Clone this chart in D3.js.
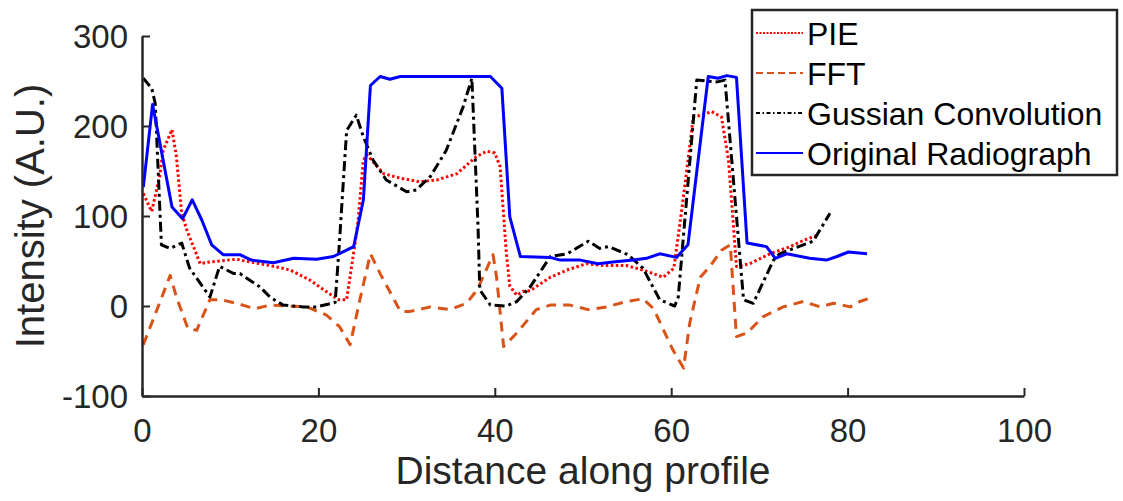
<!DOCTYPE html>
<html>
<head>
<meta charset="utf-8">
<script src="https://cdn.jsdelivr.net/npm/d3@7/dist/d3.min.js"></script>
<style>
  html, body { margin: 0; padding: 0; background: #fff; }
  svg { display: block; }
  text { font-family: "Liberation Sans", Arial, Helvetica, sans-serif; fill: #262626; }
</style>
</head>
<body>
<svg id="chart" width="1123" height="501"></svg>
<script>
// ---- data ----
const seriesNames = ["PIE", "FFT", "Gussian Convolution", "Original Radiograph"];

const pieX = [0.15,1.1,2,2.4,3.4,3.9,4.5,5.1,6.6,7.7,10.7,12.2,14.5,16.8,19,20.9,22.3,23.2,24.1,24.5,25.1,25.5,27.4,29.3,31.5,33.4,35.7,37.9,39.1,40,40.6,41.3,41.7,42.5,43.2,44,46.3,48.2,50.4,52.3,54.9,56.8,59.1,60.3,61.2,62.1,62.5,63.4,64.6,65.7,66.5,67.4,68.9,71.2,73.5,75,76.7];
const pieY = [125,105,144,173,196,166,103,84,47,49,52,49,45,40,29,16,7,7,66,95,162,168,147,142,138,140,147,166,172,170,155,60,22,12,16,17,32,40,47,45,45,40,32,42,107,177,210,212,216,210,162,44,47,58,66,73,79];

const fftX = [0.15,1.7,3.2,3.9,5.2,6.2,7.7,9,10.7,12.8,14.5,16.4,18.7,20.9,22.4,23.6,24.7,25.9,27,29.3,30.4,32.7,34.9,36.8,38,39.8,40.2,41,42.5,44.7,46.3,48.5,50.6,52.7,54.9,56.8,58,60.2,61.4,62.1,63.3,64.4,65.7,66.7,67.4,68.6,70.4,72.7,75,76.9,78.4,80.3,81.4,82.9];
const fftY = [-43,-4,34,10,-25,-27,7,7,3,-3,1,0,-1,-10,-23,-43,7,58,36,-6,-6,-1,-4,3,18,57,32,-45,-30,-4,1,1,-4,-1,5,8,-3,-49,-69,-19,32,44,62,68,-34,-30,-12,-1,5,-1,3,-1,5,10];

const gaussX = [0.15,1.1,1.5,2.2,3.2,4.5,5.4,7.7,8.8,10.4,11.1,13.4,14.5,16,18.3,19.8,21.9,22.3,23.2,24.3,25.1,26.2,27.7,30,31.1,32.7,34.5,36.4,37.4,38.1,38.3,39.5,41.3,42.5,44,46.3,48.2,50.6,51.9,52.9,55.1,56.8,58.7,60.4,60.8,62.9,65.2,66.1,68.2,69.3,71.6,72.3,73.9,76.1,78];
const gaussY = [253,242,225,68,64,70,42,10,44,36,36,21,10,1,-1,-1,4,58,195,212,188,162,140,127,129,144,173,221,253,88,18,1,0,5,21,55,58,72,64,66,57,42,7,0,10,251,249,251,7,3,51,58,64,72,103];

const origX = [0.15,1.2,3.4,4.6,5.7,6.8,7.9,9.2,11.1,12.4,14.9,17.2,19.8,21.7,23.2,24,25.1,25.9,27,28.1,29.3,37.2,39.5,40.8,41.7,42.9,46.3,47.4,49.7,51.7,53.4,55.7,57.2,58.7,60.6,61.9,64.2,65.3,66.3,67.4,68.6,70.8,71.8,73.1,75.7,77.6,78.8,80.1,82.2];
const origY = [132,224,110,97,118,95,68,57,57,51,48,53,52,55,62,66,118,245,255,252,255,255,255,242,99,55,54,51,51,47,49,51,53,58,54,68,255,253,256,254,70,66,53,58,53,51,55,60,58];

const xTicks = [0, 20, 40, 60, 80, 100];
const yTicks = [-100, 0, 100, 200, 300];
const xLabel = "Distance along profile";
const yLabel = "Intensity (A.U.)";

// ---- styles ----
const styles = [
  { color: "#FF0000", dash: "2.5,2.5", width: 3 },
  { color: "#D95319", dash: "10,7", width: 3 },
  { color: "#000000", dash: "10,4,3,4", width: 3 },
  { color: "#0000FF", dash: null, width: 3 }
];
const seriesData = [
  pieX.map((x, i) => [x, pieY[i]]),
  fftX.map((x, i) => [x, fftY[i]]),
  gaussX.map((x, i) => [x, gaussY[i]]),
  origX.map((x, i) => [x, origY[i]])
];

const svg = d3.select("#chart");
const axisColor = "#262626";
const x = d3.scaleLinear().domain([0, 100]).range([142, 1024]);
const y = d3.scaleLinear().domain([-100, 300]).range([396, 36]);

// series lines
const line = d3.line().x(d => x(d[0])).y(d => y(d[1]));
[0, 1, 2, 3].forEach(i => {
  svg.append("path")
    .datum(seriesData[i])
    .attr("d", line)
    .attr("fill", "none")
    .attr("stroke", styles[i].color)
    .attr("stroke-width", styles[i].width)
    .attr("stroke-dasharray", styles[i].dash)
    .attr("stroke-linejoin", "round");
});

// axes (ticks pointing inward, MATLAB style)
const fmt = d => String(d);
const xAxis = d3.axisBottom(x).tickValues(xTicks).tickFormat(fmt).tickSize(-8).tickSizeOuter(0);
const yAxis = d3.axisLeft(y).tickValues(yTicks).tickFormat(fmt).tickSize(-8).tickSizeOuter(0);

const gx = svg.append("g").attr("transform", "translate(0,396)").call(xAxis);
const gy = svg.append("g").attr("transform", "translate(142,0)").call(yAxis);
[gx, gy].forEach(g => {
  g.select(".domain").attr("stroke", axisColor).attr("stroke-width", 2.5);
  g.selectAll(".tick line").attr("stroke", axisColor).attr("stroke-width", 2);
  g.selectAll(".tick text")
    .attr("fill", axisColor)
    .style("font-size", "33px")
    .style("font-family", '"Liberation Sans", Arial, sans-serif');
});
gx.selectAll(".tick text").attr("dy", null).attr("y", 46);
gy.selectAll(".tick text").attr("dy", "0.35em").attr("x", -14);

// axis titles
svg.append("text")
  .attr("x", x(50)).attr("y", 484)
  .attr("text-anchor", "middle")
  .style("font-size", "39px")
  .text(xLabel);
svg.append("text")
  .attr("transform", "translate(44," + y(100) + ") rotate(-90)")
  .attr("text-anchor", "middle")
  .style("font-size", "40px")
  .text(yLabel);

// legend
const lg = svg.append("g");
lg.append("rect")
  .attr("x", 752).attr("y", 10).attr("width", 365).attr("height", 165)
  .attr("fill", "#fff").attr("stroke", axisColor).attr("stroke-width", 2.5);
const legendDash = ["2,1.5", "7,4", "4,2.5,1.5,2.5", null];
seriesNames.forEach((name, i) => {
  const cy = 33 + i * 40;
  lg.append("line")
    .attr("x1", 756).attr("x2", 803)
    .attr("y1", cy).attr("y2", cy)
    .attr("stroke", styles[i].color)
    .attr("stroke-width", 2)
    .attr("stroke-dasharray", legendDash[i]);
  lg.append("text")
    .attr("x", 807).attr("y", cy + 12)
    .style("font-size", "32px")
    .style("fill", "#000")
    .text(name);
});
</script>
</body>
</html>
